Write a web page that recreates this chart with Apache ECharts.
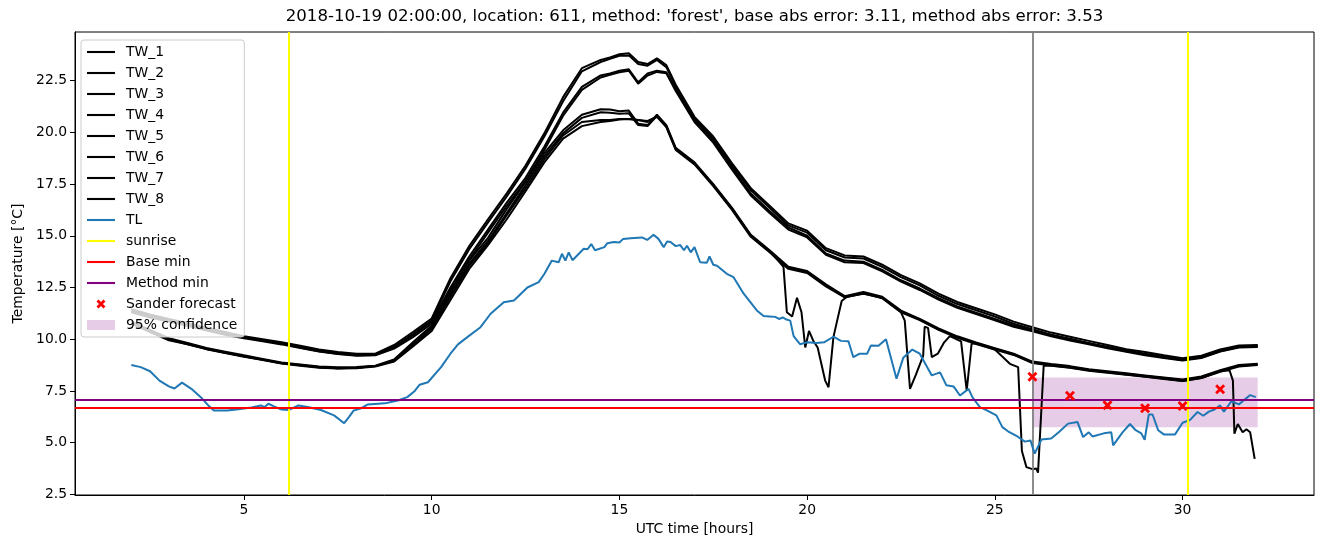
<!DOCTYPE html>
<html><head><meta charset="utf-8">
<script src="https://cdn.jsdelivr.net/npm/echarts@6/dist/echarts.min.js"></script>
<style>html,body{margin:0;padding:0;background:#fff}#c{width:1324px;height:547px}</style>
</head><body><div id="c"></div>
<script>
// ---------------- DATA ----------------
const titleText = "2018-10-19 02:00:00, location: 611, method: 'forest', base abs error: 3.11, method abs error: 3.53";
const xTicks = [5, 10, 15, 20, 25, 30];
const yTicks = [2.5, 5, 7.5, 10, 12.5, 15, 17.5, 20, 22.5];

const twHours = [2,2.5,3,3.5,4,4.5,5,5.5,6,6.5,7,7.5,8,8.5,9,9.5,10,10.5,11,11.5,12,12.5,13,13.5,14,14.5,14.75,15,15.25,15.5,15.75,16,16.25,16.5,17,17.5,18,18.5,19,19.5,20,20.5,21,21.5,22,22.5,23,23.5,24,24.5,25,25.5,26,26.5,27,27.5,28,28.5,29,29.5,30,30.5,31,31.5,32];

const tw1 = [11.45,11.2,10.98,10.78,10.55,10.35,10.15,10.0,9.85,9.68,9.5,9.38,9.3,9.3,9.72,10.35,11.0,12.95,14.5,15.8,17.05,18.4,19.95,21.7,23.1,23.5,23.62,23.78,23.82,23.4,23.3,23.58,23.25,22.3,20.75,19.8,18.5,17.3,16.45,15.6,15.25,14.4,14.05,14.0,13.6,13.1,12.7,12.2,11.8,11.5,11.2,10.85,10.58,10.32,10.12,9.92,9.72,9.52,9.38,9.22,9.08,9.2,9.5,9.7,9.72];
const tw2 = [11.4,11.15,10.92,10.72,10.5,10.3,10.1,9.95,9.8,9.62,9.45,9.32,9.25,9.26,9.65,10.25,10.9,12.8,14.35,15.65,16.9,18.25,19.8,21.5,22.95,23.4,23.55,23.7,23.72,23.3,23.22,23.5,23.15,22.2,20.65,19.7,18.4,17.2,16.35,15.5,15.15,14.3,13.95,13.9,13.5,13.0,12.6,12.1,11.7,11.4,11.1,10.75,10.48,10.22,10.02,9.82,9.62,9.42,9.28,9.12,9.0,9.12,9.42,9.62,9.65];
const tw3 = [11.35,11.1,10.88,10.68,10.45,10.25,10.08,9.92,9.78,9.6,9.42,9.3,9.22,9.24,9.6,10.2,10.85,12.5,14.0,15.3,16.6,17.8,19.3,20.95,22.2,22.75,22.85,22.98,23.05,22.42,22.85,22.98,22.9,22.1,20.6,19.6,18.3,17.05,16.2,15.4,15.0,14.15,13.8,13.75,13.35,12.85,12.45,11.98,11.58,11.28,10.98,10.66,10.44,10.2,10.0,9.8,9.62,9.45,9.3,9.15,9.02,9.15,9.45,9.65,9.68];
const tw4 = [11.3,11.05,10.85,10.65,10.42,10.22,10.05,9.9,9.75,9.58,9.4,9.28,9.2,9.22,9.55,10.1,10.75,12.35,13.85,15.15,16.45,17.65,19.15,20.8,22.05,22.65,22.78,22.9,22.98,22.35,22.75,22.92,22.85,22.0,20.5,19.5,18.2,16.95,16.1,15.3,14.92,14.08,13.72,13.68,13.28,12.78,12.38,11.92,11.52,11.22,10.92,10.6,10.38,10.14,9.94,9.75,9.56,9.39,9.23,9.09,8.97,9.09,9.4,9.6,9.62];
const tw5 = [10.85,10.45,10.05,9.82,9.58,9.4,9.22,9.05,8.88,8.78,8.68,8.64,8.66,8.72,9.02,9.85,10.65,12.3,13.8,14.9,16.3,17.6,19.0,20.1,20.85,21.12,21.1,21.02,21.05,20.42,20.35,20.85,20.35,19.25,18.55,17.5,16.35,15.05,14.3,13.5,13.3,12.65,12.08,12.28,12.05,11.38,10.98,10.52,10.14,9.84,9.57,9.3,8.92,8.8,8.7,8.55,8.45,8.35,8.25,8.15,8.05,8.2,8.5,8.75,8.82];
const tw6 = [10.8,10.4,10.0,9.78,9.55,9.36,9.18,9.02,8.85,8.75,8.65,8.6,8.62,8.7,8.98,9.78,10.55,12.15,13.65,14.75,16.1,17.45,18.85,19.95,20.7,20.97,20.95,20.9,20.92,20.35,20.3,20.8,20.3,19.2,18.5,17.45,16.3,15.0,14.25,13.45,13.25,12.6,12.05,12.25,12.02,11.34,10.95,10.48,10.1,9.8,9.54,9.27,8.88,8.76,8.66,8.52,8.42,8.32,8.22,8.12,8.02,8.16,8.46,8.72,8.78];
const tw7 = [10.75,10.35,9.95,9.75,9.52,9.33,9.15,9.0,8.82,8.72,8.62,8.58,8.6,8.68,8.92,9.65,10.4,11.9,13.4,14.55,15.8,17.15,18.55,19.7,20.3,20.5,20.55,20.62,20.65,20.6,20.55,20.75,20.25,19.15,18.45,17.4,16.25,14.95,14.2,13.4,13.2,12.55,12.02,12.22,11.98,11.3,10.92,10.45,10.07,9.77,9.5,9.24,8.85,8.73,8.63,8.5,8.4,8.3,8.2,8.1,7.98,8.12,8.42,8.68,8.75];

const tw8Hours = [2,2.5,3,3.5,4,4.5,5,5.5,6,6.5,7,7.5,8,8.5,9,9.5,10,10.5,11,11.5,12,12.5,13,13.5,14,14.5,14.75,15,15.25,15.5,15.75,16,16.25,16.5,17,17.5,18,18.5,19,19.25,19.37,19.46,19.6,19.73,19.85,19.95,20.05,20.17,20.28,20.48,20.57,20.7,20.8,20.92,21.06,21.5,22,22.5,22.6,22.74,22.9,23.09,23.13,23.22,23.32,23.48,23.65,23.8,24.1,24.25,24.38,24.5,25,25.4,25.62,25.72,25.84,26,26.1,26.15,26.3,26.5,27,27.5,28,28.5,29,29.5,30,30.5,31,31.25,31.34,31.38,31.47,31.6,31.7,31.8,31.92];
const tw8 = [10.78,10.38,9.98,9.76,9.53,9.35,9.17,9.01,8.84,8.74,8.64,8.6,8.62,8.7,8.95,9.7,10.5,12.05,13.55,14.65,16.0,17.3,18.7,19.85,20.5,20.6,20.6,20.65,20.65,20.6,20.5,20.78,20.28,19.2,18.5,17.45,16.3,15.0,14.25,13.75,13.5,11.3,11.1,12.0,11.3,9.6,10.4,9.9,9.6,8.0,7.68,10.1,10.9,11.85,12.05,12.2,12.0,11.3,10.9,7.6,8.3,9.2,10.6,10.55,9.13,9.3,9.85,10.15,9.9,7.52,9.78,9.8,9.5,8.81,8.65,4.6,3.82,3.72,3.75,3.55,8.72,8.72,8.62,8.48,8.38,8.28,8.18,8.08,7.98,8.12,8.45,8.5,8.0,5.43,5.9,5.5,5.65,5.5,4.22];

const tlHours = [2,2.25,2.5,2.75,3,3.15,3.35,3.6,3.85,4.05,4.2,4.55,4.8,5.2,5.45,5.55,5.65,5.8,6,6.2,6.45,6.7,7.05,7.4,7.67,7.8,7.92,8.1,8.3,8.75,9.1,9.35,9.55,9.68,9.9,10.25,10.5,10.7,10.95,11.3,11.57,11.92,12.19,12.55,12.85,13,13.2,13.38,13.47,13.56,13.65,13.75,14.05,14.15,14.25,14.35,14.6,14.68,14.85,15,15.1,15.3,15.6,15.74,15.91,16.04,16.18,16.27,16.36,16.5,16.62,16.72,16.8,16.9,17,17.15,17.33,17.4,17.5,17.6,17.86,18.04,18.31,18.66,18.84,19,19.15,19.25,19.35,19.45,19.55,19.64,19.81,20,20.25,20.45,20.7,20.9,21.1,21.23,21.4,21.6,21.7,21.9,22.1,22.38,22.56,22.8,23,23.32,23.54,23.71,23.9,24.07,24.3,24.4,24.6,24.8,25.04,25.2,25.35,25.6,25.8,25.95,26.06,26.24,26.5,26.7,26.95,27.2,27.35,27.5,27.6,27.9,28.1,28.15,28.4,28.6,28.75,28.9,28.99,29.1,29.2,29.35,29.5,29.8,30,30.2,30.4,30.55,30.7,30.85,31,31.1,31.3,31.5,31.8,31.95];
const tlValues = [8.75,8.65,8.45,8.0,7.72,7.62,7.9,7.6,7.2,6.8,6.56,6.55,6.6,6.7,6.8,6.72,6.88,6.75,6.6,6.58,6.8,6.72,6.58,6.32,5.94,6.25,6.55,6.65,6.85,6.9,7.04,7.2,7.5,7.8,7.92,8.65,9.3,9.75,10.1,10.58,11.23,11.79,11.87,12.5,12.76,13.15,13.8,13.72,14.13,13.8,14.2,13.82,14.37,14.35,14.6,14.3,14.45,14.64,14.7,14.68,14.85,14.88,14.92,14.8,15.05,14.85,14.45,14.72,14.7,14.5,14.55,14.3,14.52,14.2,14.45,13.72,13.7,14.0,13.6,13.55,13.16,13.0,12.2,11.39,11.12,11.1,11.08,10.98,11.05,10.95,10.9,10.15,9.76,9.85,9.82,9.85,10.12,9.92,9.9,9.13,9.3,9.3,9.7,9.68,10.0,8.09,9.1,9.5,9.3,8.25,8.4,7.77,7.72,7.28,7.6,7.2,6.72,6.55,6.32,5.75,5.55,5.3,5.05,5.1,4.47,5.15,5.2,5.5,5.92,6.0,5.27,5.5,5.3,5.45,5.5,4.87,5.5,5.9,5.6,5.45,5.14,6.36,6.36,5.6,5.4,5.4,5.96,6.1,6.48,6.3,6.5,6.6,6.8,6.5,7.0,6.85,7.3,7.2];

const sunriseHours = [6.18, 30.15];
const forecastTime = 26;
const baseMin = 6.69;
const methodMin = 7.06;
const sanderHours = [26, 27, 28, 29, 30, 31];
const sanderValues = [8.19, 7.27, 6.81, 6.66, 6.77, 7.58];
const confStart = 26, confEnd = 32, confLow = 5.75, confHigh = 8.15;

// ---------------- CHART ----------------
const FONT = 'DejaVu Sans';
const chart = echarts.init(document.getElementById('c'), null, {renderer: 'canvas'});
const pairs = (xs, ys) => xs.map((x, i) => [x, ys[i]]);
const lineIcon = 'path://M0,0 H28 V2.1 H0 Z';
const series = [];
series.push({name: '95% confidence', type: 'line', data: [], symbol: 'none', color: 'rgba(128,0,128,0.2)',
  itemStyle: {color: 'rgba(128,0,128,0.2)'}, animation: false, z: 1,
  markArea: {silent: true, animation: false, z: 1, itemStyle: {color: 'rgba(128,0,128,0.2)', borderWidth: 0},
    data: [[{xAxis: confStart, yAxis: confHigh}, {xAxis: confEnd, yAxis: confLow}]]}});
[tw1, tw2, tw3, tw4, tw5, tw6, tw7].forEach((vals, k) => {
  series.push({name: 'TW_' + (k + 1), type: 'line', data: pairs(twHours, vals), symbol: 'none', color: '#000',
    lineStyle: {color: '#000', width: 2}, itemStyle: {color: '#000'}, animation: false, z: 2});
});
series.push({name: 'TW_8', type: 'line', data: pairs(tw8Hours, tw8), symbol: 'none', color: '#000',
  lineStyle: {color: '#000', width: 2}, itemStyle: {color: '#000'}, animation: false, z: 2});
series.push({name: 'TL', type: 'line', data: pairs(tlHours, tlValues), symbol: 'none', color: '#1f77b4',
  lineStyle: {color: '#1f77b4', width: 2}, itemStyle: {color: '#1f77b4'}, animation: false, z: 3});
series.push({name: 'forecastLine', type: 'line', data: [], symbol: 'none', color: '#808080', animation: false,
  markLine: {silent: true, symbol: ['none', 'none'], label: {show: false}, animation: false, z: 3,
    lineStyle: {color: '#808080', width: 1.8, type: 'solid'}, data: [{xAxis: forecastTime}]}});
const markSeries = (name, color, data) => ({name, type: 'line', data: [], symbol: 'none', color,
  lineStyle: {color, width: 2}, itemStyle: {color}, animation: false,
  markLine: {silent: true, symbol: ['none', 'none'], label: {show: false}, animation: false, z: 4,
    lineStyle: {color, width: 2, type: 'solid'}, data}});
series.push(markSeries('sunrise', '#ffff00', sunriseHours.map(h => ({xAxis: h}))));
series.push(markSeries('Base min', '#ff0000', [{yAxis: baseMin}]));
series.push(markSeries('Method min', '#800080', [{yAxis: methodMin}]));
const xPath = 'path://M0,2 L2,0 L5,3 L8,0 L10,2 L7,5 L10,8 L8,10 L5,7 L2,10 L0,8 L3,5 Z';
series.push({name: 'Sander forecast', type: 'scatter', data: pairs(sanderHours, sanderValues), symbol: xPath,
  symbolSize: 10, color: '#ff0000', itemStyle: {color: '#ff0000', opacity: 1}, animation: false, z: 8});

const legendNames = ['TW_1','TW_2','TW_3','TW_4','TW_5','TW_6','TW_7','TW_8','TL','sunrise','Base min','Method min'];
const legendColors = {TL: '#1f77b4', sunrise: '#ffff00', 'Base min': '#ff0000', 'Method min': '#800080'};
const legendData = legendNames.map(n => ({name: n, icon: lineIcon, itemStyle: {color: legendColors[n] || '#000'}}));
legendData.push({name: 'Sander forecast', icon: 'path://M0,0 L0.001,0 Z M14,14 L14.001,14 Z M2.5,4.5 L4.5,2.5 L7,5 L9.5,2.5 L11.5,4.5 L9,7 L11.5,9.5 L9.5,11.5 L7,9 L4.5,11.5 L2.5,9.5 L5,7 Z', itemStyle: {color: '#ff0000'}});
legendData.push({name: '95% confidence', icon: 'path://M0,0 H28 V10 H0 Z', itemStyle: {color: 'rgba(128,0,128,0.2)'}});

const option = {
  backgroundColor: '#ffffff',
  animation: false,
  textStyle: {fontFamily: FONT},
  grid: {left: 75, right: 10, top: 32, bottom: 52, show: true, borderColor: '#000', borderWidth: 1, backgroundColor: 'transparent'},
  xAxis: {type: 'value', min: 0.5, max: 33.5,
    name: 'UTC time [hours]', nameLocation: 'middle', nameGap: 27,
    nameTextStyle: {fontFamily: FONT, fontSize: 13.9, color: '#000'},
    axisLine: {show: true, lineStyle: {color: '#000', width: 1}},
    axisTick: {show: true, length: 5, lineStyle: {color: '#000', width: 1}, customValues: xTicks},
    axisLabel: {fontFamily: FONT, fontSize: 13.9, color: '#000', margin: 8, customValues: xTicks, formatter: v => String(v)},
    splitLine: {show: false}},
  yAxis: {type: 'value', min: 2.47, max: 24.85,
    name: 'Temperature [°C]', nameLocation: 'middle', nameGap: 50, nameRotate: 90,
    nameTextStyle: {fontFamily: FONT, fontSize: 13.9, color: '#000'},
    axisLine: {show: true, lineStyle: {color: '#000', width: 1}},
    axisTick: {show: true, length: 5, lineStyle: {color: '#000', width: 1}, customValues: yTicks},
    axisLabel: {fontFamily: FONT, fontSize: 13.9, color: '#000', margin: 8, customValues: yTicks, formatter: v => v.toFixed(1)},
    splitLine: {show: false}},
  legend: {orient: 'vertical', left: 81, top: 40, itemWidth: 28, itemHeight: 14, itemGap: 7,
    padding: [5, 7, 5, 6], backgroundColor: 'rgba(255,255,255,0.8)', borderColor: '#cccccc', borderWidth: 1, borderRadius: 3,
    selectedMode: false, symbolKeepAspect: true,
    textStyle: {fontFamily: FONT, fontSize: 13.9, color: '#000', lineHeight: 14, padding: [0, 0, 0, 6]},
    data: legendData},
  graphic: [{type: 'text', x: 694.5, y: 17, style: {text: titleText, fontFamily: FONT, fontSize: 16.6, fill: '#000',
    textAlign: 'center', textVerticalAlign: 'middle'}}],
  series
};
chart.setOption(option);
</script>
</body></html>
